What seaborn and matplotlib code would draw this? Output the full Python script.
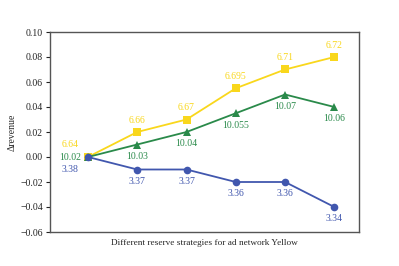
import matplotlib
matplotlib.use("Agg")
import matplotlib.pyplot as plt
import seaborn as sns
import pandas as pd

strategies = [1, 2, 3, 4, 5, 6]
yellow_delta = [0.0, 0.02, 0.03, 0.055, 0.07, 0.08]
green_delta = [0.0, 0.01, 0.02, 0.035, 0.05, 0.04]
blue_delta = [0.0, -0.01, -0.01, -0.02, -0.02, -0.04]
yellow_labels = ["6.64", "6.66", "6.67", "6.695", "6.71", "6.72"]
green_labels = ["10.02", "10.03", "10.04", "10.055", "10.07", "10.06"]
blue_labels = ["3.38", "3.37", "3.37", "3.36", "3.36", "3.34"]
yticks = [-0.06, -0.04, -0.02, 0.0, 0.02, 0.04, 0.06, 0.08, 0.10]

sns.set_style("white")
plt.rcParams['font.family'] = ['Liberation Serif', 'DejaVu Serif']
plt.rcParams['mathtext.fontset'] = 'stix'

YEL = "#F9D71C"
GRN = "#2A8A4A"
BLU = "#4157AE"

df = pd.DataFrame({
    "x": strategies * 3,
    "y": yellow_delta + green_delta + blue_delta,
    "s": ["Y"] * 6 + ["G"] * 6 + ["B"] * 6,
})

fig = plt.figure(figsize=(3.99, 2.66), dpi=100)
ax = fig.add_axes([50 / 399, 1 - 232 / 266, 309 / 399, 200 / 266])

sns.lineplot(data=df, x="x", y="y", hue="s", style="s",
             palette={"Y": YEL, "G": GRN, "B": BLU},
             markers={"Y": "s", "G": "^", "B": "o"}, dashes=False,
             markersize=5.5, linewidth=1.3, markeredgewidth=0,
             legend=False, ax=ax)

fs = 7
for i, x in enumerate(strategies):
    if i == 0:
        ax.annotate(yellow_labels[i], (x, yellow_delta[i]), xytext=(-13, 9), textcoords="offset points",
                    ha="center", va="center", color=YEL, fontsize=fs)
        ax.annotate(green_labels[i], (x, green_delta[i]), xytext=(-13, 0), textcoords="offset points",
                    ha="center", va="center", color=GRN, fontsize=fs)
        ax.annotate(blue_labels[i], (x, blue_delta[i]), xytext=(-13, -9), textcoords="offset points",
                    ha="center", va="center", color=BLU, fontsize=fs)
    else:
        ax.annotate(yellow_labels[i], (x, yellow_delta[i]), xytext=(0, 8.5), textcoords="offset points",
                    ha="center", va="center", color=YEL, fontsize=fs)
        ax.annotate(green_labels[i], (x, green_delta[i]), xytext=(0, -8.5), textcoords="offset points",
                    ha="center", va="center", color=GRN, fontsize=fs)
        ax.annotate(blue_labels[i], (x, blue_delta[i]), xytext=(0, -8.5), textcoords="offset points",
                    ha="center", va="center", color=BLU, fontsize=fs)

ax.set_xlim(0.23, 6.5)
ax.set_ylim(-0.06, 0.10)
ax.set_yticks(yticks)
ax.set_yticklabels([f"{v:.2f}".replace("-", "\u2212") for v in yticks], fontsize=fs)
ax.set_xticks([])
ax.tick_params(axis="y", direction="out", length=3, width=0.8, left=True, pad=2, colors="#222222")
ax.set_xlabel("Different reserve strategies for ad network Yellow", fontsize=6.7, labelpad=5)
ax.set_ylabel("\u0394revenue", fontsize=fs, labelpad=3)
for sp in ax.spines.values():
    sp.set_color("#555555")
    sp.set_linewidth(1.0)
    sp.set_visible(True)

fig.savefig("out.png", dpi=100)
